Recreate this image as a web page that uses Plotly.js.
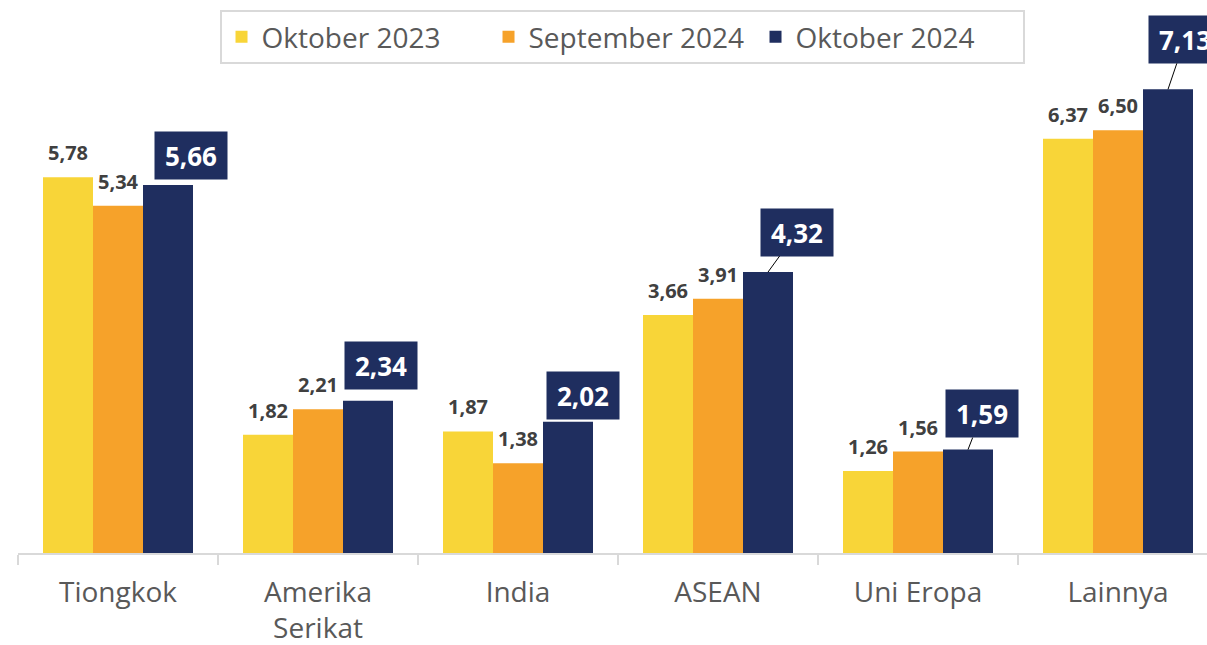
<!DOCTYPE html>
<html>
<head>
<meta charset="utf-8">
<script src="https://cdn.plot.ly/plotly-3.0.1.min.js"></script>
<style>html,body{margin:0;padding:0;background:#fff;}#chart{width:1207px;height:645px;}</style>
</head>
<body>
<div id="chart"></div>
<script>
const categories = ["Tiongkok", "Amerika<br>Serikat", "India", "ASEAN", "Uni Eropa", "Lainnya"];
const seriesNames = ["Oktober 2023", "September 2024", "Oktober 2024"];
const okt2023 = [5.78, 1.82, 1.87, 3.66, 1.26, 6.37];
const sep2024 = [5.34, 2.21, 1.38, 3.91, 1.56, 6.50];
const okt2024 = [5.66, 2.34, 2.02, 4.32, 1.59, 7.13];

const colors = ["#F8D538", "#F6A22A", "#1F2E5F"];
const FONT = "Open Sans, Noto Sans, sans-serif";
const fmt = v => v.toFixed(2).replace(".", ",");

const allSeries = [okt2023, sep2024, okt2024];
const traces = allSeries.map((vals, i) => ({
  type: "bar",
  name: seriesNames[i],
  x: categories,
  y: vals,
  marker: {color: colors[i]},
  hoverinfo: "skip"
}));

// label box offsets for the highlighted series (box centre relative to bar top, px)
const boxOffsets = [[23, -29, false], [13, -35, false], [15, -26, false], [29, -40, true], [14, -36, true], [17, -50, true]];

const annotations = [];
[okt2023, sep2024].forEach((vals, s) => {
  vals.forEach((v, i) => {
    annotations.push({
      x: categories[i], y: v, xref: "x", yref: "y",
      text: fmt(v), showarrow: false,
      xshift: (s - 1) * 50, yshift: 9,
      xanchor: "center", yanchor: "bottom",
      font: {family: FONT, size: 20, color: "#404040", weight: 700}
    });
  });
});
okt2024.forEach((v, i) => {
  const [dx, dy, arrow] = boxOffsets[i];
  const a = {
    x: categories[i], y: v, xref: "x", yref: "y",
    text: "<b>" + fmt(v) + "</b>",
    bgcolor: "#1F2E5F", borderpad: 0, width: 72, height: 47,
    font: {family: FONT, size: 26, color: "#ffffff"},
    align: "center", valign: "middle"
  };
  if (arrow) {
    Object.assign(a, {showarrow: true, arrowhead: 0, arrowwidth: 1, arrowcolor: "#000000",
      standoff: 0, ax: dx, ay: dy, xshift: 50});
  } else {
    Object.assign(a, {showarrow: false, xanchor: "center", yanchor: "middle",
      xshift: 50 + dx, yshift: -dy});
  }
  annotations.push(a);
});

const layout = {
  width: 1207, height: 645,
  margin: {l: 18, r: 0, t: 10, b: 92},
  paper_bgcolor: "#ffffff", plot_bgcolor: "#ffffff",
  barmode: "group", bargap: 0.25, bargroupgap: 0,
  font: {family: FONT, color: "#595959"},
  showlegend: true,
  legend: {
    orientation: "h", x: 0.508, xanchor: "center", y: 1, yanchor: "top",
    bordercolor: "#D9D9D9", borderwidth: 2, bgcolor: "#ffffff",
    entrywidth: 222, entrywidthmode: "pixels",
    font: {family: FONT, size: 28, color: "#595959"}
  },
  xaxis: {
    type: "category", range: [-0.5, 5.445],
    showline: true, linecolor: "#D9D9D9", linewidth: 2,
    ticks: "outside", tickson: "boundaries", ticklen: 10, tickcolor: "#D9D9D9", tickwidth: 2,
    ticklabelstandoff: 13,
    tickfont: {family: FONT, size: 28, color: "#595959"},
    showgrid: false, zeroline: false, fixedrange: true
  },
  yaxis: {
    range: [0, 8.35], showgrid: false, zeroline: false, showline: false,
    showticklabels: false, ticks: "", fixedrange: true
  },
  annotations: annotations
};

Plotly.newPlot("chart", traces, layout, {displayModeBar: false, staticPlot: true});
</script>
</body>
</html>
